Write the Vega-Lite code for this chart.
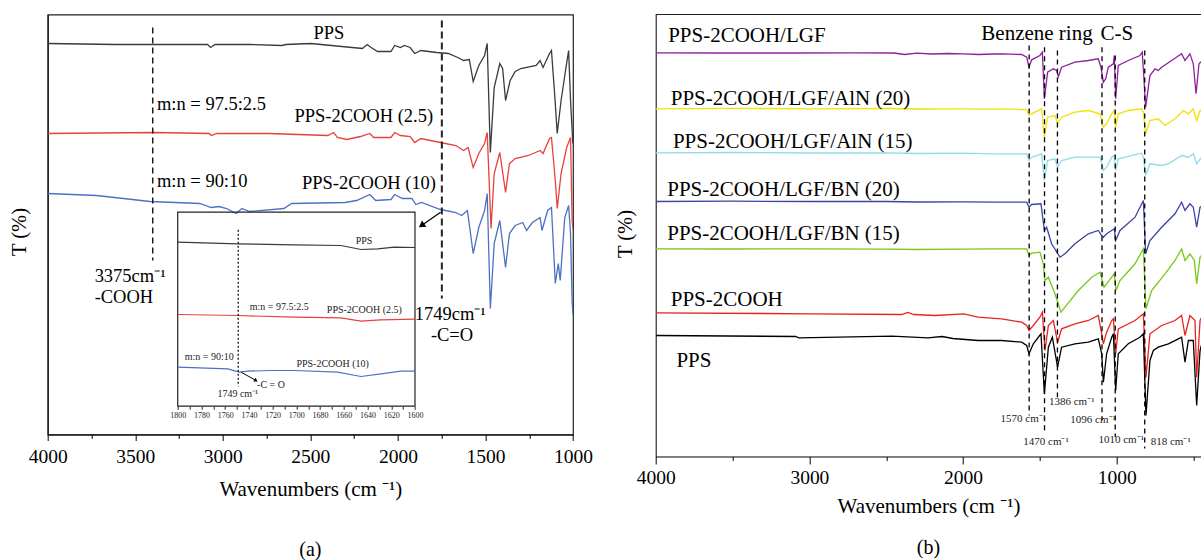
{
  "$schema": "https://vega.github.io/schema/vega-lite/v6.json",
  "padding": {"left": 8.7, "top": 13.5, "right": 0, "bottom": 0},
  "config": {
    "font": "Liberation Serif",
    "view": {"stroke": null},
    "axis": {"grid": false, "labelColor": "#000", "titleColor": "#000", "titleFontWeight": "normal", "domainColor": "#000", "tickColor": "#000", "labelFont": "Liberation Serif", "titleFont": "Liberation Serif", "labelFlush": false, "labelOverlap": false},
    "text": {"font": "Liberation Serif", "color": "#000"},
    "title": {"font": "Liberation Serif", "fontWeight": "normal", "color": "#000"}
  },
  "datasets": {
    "a_lines": [
      {"s":"PPS","wn":4000,"t":391},{"s":"PPS","wn":3611,"t":390},{"s":"PPS","wn":3087,"t":390},{"s":"PPS","wn":3070,"t":387},{"s":"PPS","wn":3044,"t":390},{"s":"PPS","wn":2847,"t":390},{"s":"PPS","wn":2662,"t":389},{"s":"PPS","wn":2640,"t":390},{"s":"PPS","wn":2498,"t":391},{"s":"PPS","wn":2203,"t":386},{"s":"PPS","wn":2175,"t":390},{"s":"PPS","wn":2153,"t":387},{"s":"PPS","wn":2116,"t":383},{"s":"PPS","wn":2040,"t":383},{"s":"PPS","wn":2018,"t":389},{"s":"PPS","wn":1985,"t":387},{"s":"PPS","wn":1963,"t":389},{"s":"PPS","wn":1930,"t":387},{"s":"PPS","wn":1904,"t":381},{"s":"PPS","wn":1869,"t":384},{"s":"PPS","wn":1778,"t":382},{"s":"PPS","wn":1712,"t":381},{"s":"PPS","wn":1658,"t":377},{"s":"PPS","wn":1625,"t":374},{"s":"PPS","wn":1592,"t":375},{"s":"PPS","wn":1570,"t":353},{"s":"PPS","wn":1538,"t":369},{"s":"PPS","wn":1505,"t":379},{"s":"PPS","wn":1490,"t":391},{"s":"PPS","wn":1472,"t":282},{"s":"PPS","wn":1450,"t":347},{"s":"PPS","wn":1418,"t":371},{"s":"PPS","wn":1402,"t":366},{"s":"PPS","wn":1385,"t":334},{"s":"PPS","wn":1359,"t":354},{"s":"PPS","wn":1330,"t":363},{"s":"PPS","wn":1298,"t":366},{"s":"PPS","wn":1210,"t":369},{"s":"PPS","wn":1188,"t":374},{"s":"PPS","wn":1171,"t":367},{"s":"PPS","wn":1134,"t":381},{"s":"PPS","wn":1123,"t":384},{"s":"PPS","wn":1105,"t":341},{"s":"PPS","wn":1090,"t":301},{"s":"PPS","wn":1068,"t":334},{"s":"PPS","wn":1040,"t":367},{"s":"PPS","wn":1025,"t":384},{"s":"PPS","wn":1014,"t":334},{"s":"PPS","wn":1001,"t":291},
      {"s":"PPS-2COOH (2.5)","wn":4000,"t":301},{"s":"PPS-2COOH (2.5)","wn":3393,"t":302},{"s":"PPS-2COOH (2.5)","wn":3077,"t":301},{"s":"PPS-2COOH (2.5)","wn":3066,"t":299},{"s":"PPS-2COOH (2.5)","wn":3033,"t":301},{"s":"PPS-2COOH (2.5)","wn":2738,"t":301},{"s":"PPS-2COOH (2.5)","wn":2400,"t":299},{"s":"PPS-2COOH (2.5)","wn":2367,"t":302},{"s":"PPS-2COOH (2.5)","wn":2345,"t":297},{"s":"PPS-2COOH (2.5)","wn":2291,"t":295},{"s":"PPS-2COOH (2.5)","wn":2214,"t":298},{"s":"PPS-2COOH (2.5)","wn":2160,"t":301},{"s":"PPS-2COOH (2.5)","wn":2138,"t":297},{"s":"PPS-2COOH (2.5)","wn":2040,"t":297},{"s":"PPS-2COOH (2.5)","wn":2018,"t":302},{"s":"PPS-2COOH (2.5)","wn":1985,"t":299},{"s":"PPS-2COOH (2.5)","wn":1930,"t":298},{"s":"PPS-2COOH (2.5)","wn":1904,"t":292},{"s":"PPS-2COOH (2.5)","wn":1869,"t":296},{"s":"PPS-2COOH (2.5)","wn":1757,"t":292},{"s":"PPS-2COOH (2.5)","wn":1669,"t":289},{"s":"PPS-2COOH (2.5)","wn":1625,"t":284},{"s":"PPS-2COOH (2.5)","wn":1599,"t":287},{"s":"PPS-2COOH (2.5)","wn":1570,"t":267},{"s":"PPS-2COOH (2.5)","wn":1538,"t":281},{"s":"PPS-2COOH (2.5)","wn":1505,"t":291},{"s":"PPS-2COOH (2.5)","wn":1490,"t":302},{"s":"PPS-2COOH (2.5)","wn":1468,"t":206},{"s":"PPS-2COOH (2.5)","wn":1450,"t":261},{"s":"PPS-2COOH (2.5)","wn":1418,"t":282},{"s":"PPS-2COOH (2.5)","wn":1385,"t":242},{"s":"PPS-2COOH (2.5)","wn":1363,"t":271},{"s":"PPS-2COOH (2.5)","wn":1330,"t":276},{"s":"PPS-2COOH (2.5)","wn":1254,"t":279},{"s":"PPS-2COOH (2.5)","wn":1188,"t":284},{"s":"PPS-2COOH (2.5)","wn":1171,"t":281},{"s":"PPS-2COOH (2.5)","wn":1134,"t":296},{"s":"PPS-2COOH (2.5)","wn":1123,"t":297},{"s":"PPS-2COOH (2.5)","wn":1101,"t":254},{"s":"PPS-2COOH (2.5)","wn":1090,"t":226},{"s":"PPS-2COOH (2.5)","wn":1068,"t":261},{"s":"PPS-2COOH (2.5)","wn":1036,"t":287},{"s":"PPS-2COOH (2.5)","wn":1014,"t":297},{"s":"PPS-2COOH (2.5)","wn":1005,"t":214},{"s":"PPS-2COOH (2.5)","wn":1000,"t":205},
      {"s":"PPS-2COOH (10)","wn":4000,"t":241},{"s":"PPS-2COOH (10)","wn":3721,"t":239},{"s":"PPS-2COOH (10)","wn":3415,"t":233},{"s":"PPS-2COOH (10)","wn":3131,"t":231},{"s":"PPS-2COOH (10)","wn":3066,"t":227},{"s":"PPS-2COOH (10)","wn":3022,"t":228},{"s":"PPS-2COOH (10)","wn":2978,"t":226},{"s":"PPS-2COOH (10)","wn":2924,"t":221},{"s":"PPS-2COOH (10)","wn":2891,"t":226},{"s":"PPS-2COOH (10)","wn":2847,"t":223},{"s":"PPS-2COOH (10)","wn":2651,"t":226},{"s":"PPS-2COOH (10)","wn":2607,"t":231},{"s":"PPS-2COOH (10)","wn":2302,"t":232},{"s":"PPS-2COOH (10)","wn":2236,"t":234},{"s":"PPS-2COOH (10)","wn":2160,"t":240},{"s":"PPS-2COOH (10)","wn":2127,"t":234},{"s":"PPS-2COOH (10)","wn":2040,"t":235},{"s":"PPS-2COOH (10)","wn":2018,"t":240},{"s":"PPS-2COOH (10)","wn":1974,"t":236},{"s":"PPS-2COOH (10)","wn":1919,"t":236},{"s":"PPS-2COOH (10)","wn":1898,"t":230},{"s":"PPS-2COOH (10)","wn":1865,"t":232},{"s":"PPS-2COOH (10)","wn":1757,"t":225},{"s":"PPS-2COOH (10)","wn":1669,"t":222},{"s":"PPS-2COOH (10)","wn":1636,"t":219},{"s":"PPS-2COOH (10)","wn":1603,"t":224},{"s":"PPS-2COOH (10)","wn":1570,"t":181},{"s":"PPS-2COOH (10)","wn":1538,"t":207},{"s":"PPS-2COOH (10)","wn":1505,"t":224},{"s":"PPS-2COOH (10)","wn":1490,"t":241},{"s":"PPS-2COOH (10)","wn":1472,"t":126},{"s":"PPS-2COOH (10)","wn":1450,"t":191},{"s":"PPS-2COOH (10)","wn":1418,"t":214},{"s":"PPS-2COOH (10)","wn":1385,"t":167},{"s":"PPS-2COOH (10)","wn":1363,"t":201},{"s":"PPS-2COOH (10)","wn":1330,"t":209},{"s":"PPS-2COOH (10)","wn":1287,"t":212},{"s":"PPS-2COOH (10)","wn":1265,"t":204},{"s":"PPS-2COOH (10)","wn":1232,"t":212},{"s":"PPS-2COOH (10)","wn":1188,"t":217},{"s":"PPS-2COOH (10)","wn":1177,"t":204},{"s":"PPS-2COOH (10)","wn":1145,"t":224},{"s":"PPS-2COOH (10)","wn":1123,"t":227},{"s":"PPS-2COOH (10)","wn":1101,"t":151},{"s":"PPS-2COOH (10)","wn":1084,"t":171},{"s":"PPS-2COOH (10)","wn":1073,"t":154},{"s":"PPS-2COOH (10)","wn":1047,"t":217},{"s":"PPS-2COOH (10)","wn":1025,"t":229},{"s":"PPS-2COOH (10)","wn":1014,"t":201},{"s":"PPS-2COOH (10)","wn":1005,"t":132},{"s":"PPS-2COOH (10)","wn":1000,"t":120}
    ],
    "a_dash": [{"wn":3400,"t":407,"t2":174},{"wn":1749,"t":414,"t2":136}],
    "a_text_c": [
      {"label":"PPS","wn":2394,"t":401.7},
      {"label":"PPS-2COOH (2.5)","wn":2195,"t":319},
      {"label":"PPS-2COOH (10)","wn":2165,"t":251.3},
      {"label":"1749cm⁻¹","wn":1701,"t":120.7},
      {"label":"-C=O","wn":1691,"t":99}
    ],
    "a_text_l": [
      {"label":"m:n = 97.5:2.5","wn":3376,"t":330.7},
      {"label":"m:n = 90:10","wn":3376,"t":254},
      {"label":"3375cm⁻¹","wn":3732,"t":159},
      {"label":"-COOH","wn":3732,"t":137.3}
    ],
    "a_arrow": [{"wn":1756,"t":222.3,"wn2":1865,"t2":209}],
    "a_head": [{"wn":1865,"t":209}],
    "a_minor": [{"wn":4000}],
    "a_inset_frame": [{"wn":1800,"wn2":1600,"t":28.3,"t2":222.3}],
    "a_inset": [
      {"s":"PPS","wn":1800,"t":192.3},{"s":"PPS","wn":1749.4,"t":190.7},{"s":"PPS","wn":1701.7,"t":189.7},{"s":"PPS","wn":1662.4,"t":189},{"s":"PPS","wn":1645.5,"t":185},{"s":"PPS","wn":1631.4,"t":185.7},{"s":"PPS","wn":1617.4,"t":187.3},{"s":"PPS","wn":1600,"t":187},
      {"s":"PPS-2COOH (2.5)","wn":1800,"t":120},{"s":"PPS-2COOH (2.5)","wn":1749.4,"t":119},{"s":"PPS-2COOH (2.5)","wn":1701.7,"t":117.3},{"s":"PPS-2COOH (2.5)","wn":1662.4,"t":116.7},{"s":"PPS-2COOH (2.5)","wn":1645.5,"t":113.3},{"s":"PPS-2COOH (2.5)","wn":1629,"t":114.7},{"s":"PPS-2COOH (2.5)","wn":1600,"t":115.3},
      {"s":"PPS-2COOH (10)","wn":1800,"t":67.3},{"s":"PPS-2COOH (10)","wn":1757.9,"t":65.7},{"s":"PPS-2COOH (10)","wn":1748,"t":62.3},{"s":"PPS-2COOH (10)","wn":1741,"t":63.3},{"s":"PPS-2COOH (10)","wn":1721.4,"t":64},{"s":"PPS-2COOH (10)","wn":1701.7,"t":64},{"s":"PPS-2COOH (10)","wn":1665.2,"t":62.3},{"s":"PPS-2COOH (10)","wn":1645.5,"t":58},{"s":"PPS-2COOH (10)","wn":1628.6,"t":60.7},{"s":"PPS-2COOH (10)","wn":1611.8,"t":63.3},{"s":"PPS-2COOH (10)","wn":1600,"t":63.3}
    ],
    "a_inset_dot": [{"wn":1749,"t":204.7,"t2":48.3}],
    "a_inset_text": [
      {"label":"PPS","wn":1643,"t":193.3},
      {"label":"m:n = 97.5:2.5","wn":1714.4,"t":127.3},
      {"label":"PPS-2COOH (2.5)","wn":1642.7,"t":124.7},
      {"label":"m:n = 90:10","wn":1773.4,"t":77.3},
      {"label":"PPS-2COOH (10)","wn":1669.4,"t":70.7},
      {"label":"-C = O","wn":1721.4,"t":49.7},
      {"label":"1749 cm⁻¹","wn":1749.4,"t":40}
    ],
    "a_inset_arrow": [{"wn":1746.5,"t":62.3,"wn2":1734,"t2":54}],
    "a_inset_head": [{"wn":1734,"t":54}],
    "b_lines": [
      {"s":"PPS-2COOH/LGF","wn":4000,"t":403.7},{"s":"PPS-2COOH/LGF","wn":3600,"t":403.5},{"s":"PPS-2COOH/LGF","wn":3100,"t":403.5},{"s":"PPS-2COOH/LGF","wn":2700,"t":403.7},{"s":"PPS-2COOH/LGF","wn":2450,"t":403.5},{"s":"PPS-2COOH/LGF","wn":2380,"t":402},{"s":"PPS-2COOH/LGF","wn":2300,"t":403.3},{"s":"PPS-2COOH/LGF","wn":2200,"t":402.5},{"s":"PPS-2COOH/LGF","wn":2100,"t":403},{"s":"PPS-2COOH/LGF","wn":2000,"t":402.7},{"s":"PPS-2COOH/LGF","wn":1900,"t":402},{"s":"PPS-2COOH/LGF","wn":1800,"t":402.5},{"s":"PPS-2COOH/LGF","wn":1749,"t":402.7},{"s":"PPS-2COOH/LGF","wn":1619,"t":402},{"s":"PPS-2COOH/LGF","wn":1586,"t":399.3},{"s":"PPS-2COOH/LGF","wn":1571,"t":389.3},{"s":"PPS-2COOH/LGF","wn":1554,"t":396.7},{"s":"PPS-2COOH/LGF","wn":1500,"t":401},{"s":"PPS-2COOH/LGF","wn":1484,"t":404.3},{"s":"PPS-2COOH/LGF","wn":1471,"t":357.7},{"s":"PPS-2COOH/LGF","wn":1450,"t":384.3},{"s":"PPS-2COOH/LGF","wn":1413,"t":387.7},{"s":"PPS-2COOH/LGF","wn":1391,"t":386},{"s":"PPS-2COOH/LGF","wn":1380,"t":380},{"s":"PPS-2COOH/LGF","wn":1359,"t":389.3},{"s":"PPS-2COOH/LGF","wn":1272,"t":394.3},{"s":"PPS-2COOH/LGF","wn":1185,"t":396},{"s":"PPS-2COOH/LGF","wn":1120,"t":397.7},{"s":"PPS-2COOH/LGF","wn":1103,"t":389.3},{"s":"PPS-2COOH/LGF","wn":1087,"t":374.3},{"s":"PPS-2COOH/LGF","wn":1072,"t":377.7},{"s":"PPS-2COOH/LGF","wn":1055,"t":389.3},{"s":"PPS-2COOH/LGF","wn":1022,"t":392.7},{"s":"PPS-2COOH/LGF","wn":1016,"t":401},{"s":"PPS-2COOH/LGF","wn":1007,"t":357.7},{"s":"PPS-2COOH/LGF","wn":990,"t":391},{"s":"PPS-2COOH/LGF","wn":925,"t":396},{"s":"PPS-2COOH/LGF","wn":849,"t":401},{"s":"PPS-2COOH/LGF","wn":834,"t":404.3},{"s":"PPS-2COOH/LGF","wn":812,"t":349.3},{"s":"PPS-2COOH/LGF","wn":784,"t":381},{"s":"PPS-2COOH/LGF","wn":751,"t":387.7},{"s":"PPS-2COOH/LGF","wn":730,"t":386},{"s":"PPS-2COOH/LGF","wn":708,"t":389.3},{"s":"PPS-2COOH/LGF","wn":643,"t":396},{"s":"PPS-2COOH/LGF","wn":578,"t":402.7},{"s":"PPS-2COOH/LGF","wn":556,"t":396},{"s":"PPS-2COOH/LGF","wn":524,"t":402.7},{"s":"PPS-2COOH/LGF","wn":502,"t":392.7},{"s":"PPS-2COOH/LGF","wn":484,"t":362.7},{"s":"PPS-2COOH/LGF","wn":465,"t":392.7},{"s":"PPS-2COOH/LGF","wn":441,"t":396},
      {"s":"PPS-2COOH/LGF/AlN (20)","wn":4000,"t":347.7},{"s":"PPS-2COOH/LGF/AlN (20)","wn":3500,"t":348.2},{"s":"PPS-2COOH/LGF/AlN (20)","wn":3000,"t":347.7},{"s":"PPS-2COOH/LGF/AlN (20)","wn":2500,"t":348},{"s":"PPS-2COOH/LGF/AlN (20)","wn":2300,"t":347.5},{"s":"PPS-2COOH/LGF/AlN (20)","wn":2000,"t":347.7},{"s":"PPS-2COOH/LGF/AlN (20)","wn":1800,"t":347.3},{"s":"PPS-2COOH/LGF/AlN (20)","wn":1749,"t":347.7},{"s":"PPS-2COOH/LGF/AlN (20)","wn":1586,"t":346.7},{"s":"PPS-2COOH/LGF/AlN (20)","wn":1571,"t":341},{"s":"PPS-2COOH/LGF/AlN (20)","wn":1554,"t":342.7},{"s":"PPS-2COOH/LGF/AlN (20)","wn":1489,"t":347.7},{"s":"PPS-2COOH/LGF/AlN (20)","wn":1471,"t":319.3},{"s":"PPS-2COOH/LGF/AlN (20)","wn":1450,"t":339.3},{"s":"PPS-2COOH/LGF/AlN (20)","wn":1402,"t":341},{"s":"PPS-2COOH/LGF/AlN (20)","wn":1385,"t":332.7},{"s":"PPS-2COOH/LGF/AlN (20)","wn":1359,"t":339.3},{"s":"PPS-2COOH/LGF/AlN (20)","wn":1272,"t":344.3},{"s":"PPS-2COOH/LGF/AlN (20)","wn":1185,"t":346},{"s":"PPS-2COOH/LGF/AlN (20)","wn":1109,"t":342.7},{"s":"PPS-2COOH/LGF/AlN (20)","wn":1087,"t":329.3},{"s":"PPS-2COOH/LGF/AlN (20)","wn":1066,"t":332.7},{"s":"PPS-2COOH/LGF/AlN (20)","wn":1033,"t":342.7},{"s":"PPS-2COOH/LGF/AlN (20)","wn":1016,"t":346},{"s":"PPS-2COOH/LGF/AlN (20)","wn":1007,"t":329.3},{"s":"PPS-2COOH/LGF/AlN (20)","wn":990,"t":342.7},{"s":"PPS-2COOH/LGF/AlN (20)","wn":925,"t":346},{"s":"PPS-2COOH/LGF/AlN (20)","wn":838,"t":347.7},{"s":"PPS-2COOH/LGF/AlN (20)","wn":827,"t":344.3},{"s":"PPS-2COOH/LGF/AlN (20)","wn":812,"t":322.7},{"s":"PPS-2COOH/LGF/AlN (20)","wn":784,"t":336},{"s":"PPS-2COOH/LGF/AlN (20)","wn":730,"t":337.7},{"s":"PPS-2COOH/LGF/AlN (20)","wn":686,"t":331},{"s":"PPS-2COOH/LGF/AlN (20)","wn":621,"t":337.7},{"s":"PPS-2COOH/LGF/AlN (20)","wn":567,"t":346},{"s":"PPS-2COOH/LGF/AlN (20)","wn":534,"t":342.7},{"s":"PPS-2COOH/LGF/AlN (20)","wn":502,"t":347.7},{"s":"PPS-2COOH/LGF/AlN (20)","wn":480,"t":336},{"s":"PPS-2COOH/LGF/AlN (20)","wn":458,"t":346},{"s":"PPS-2COOH/LGF/AlN (20)","wn":441,"t":346},
      {"s":"PPS-2COOH/LGF/AlN (15)","wn":4000,"t":303.7},{"s":"PPS-2COOH/LGF/AlN (15)","wn":3500,"t":304},{"s":"PPS-2COOH/LGF/AlN (15)","wn":3000,"t":303.5},{"s":"PPS-2COOH/LGF/AlN (15)","wn":2500,"t":303.7},{"s":"PPS-2COOH/LGF/AlN (15)","wn":2300,"t":303},{"s":"PPS-2COOH/LGF/AlN (15)","wn":2000,"t":303.3},{"s":"PPS-2COOH/LGF/AlN (15)","wn":1800,"t":302.7},{"s":"PPS-2COOH/LGF/AlN (15)","wn":1749,"t":302.7},{"s":"PPS-2COOH/LGF/AlN (15)","wn":1586,"t":302.7},{"s":"PPS-2COOH/LGF/AlN (15)","wn":1571,"t":296},{"s":"PPS-2COOH/LGF/AlN (15)","wn":1554,"t":299.3},{"s":"PPS-2COOH/LGF/AlN (15)","wn":1489,"t":302.7},{"s":"PPS-2COOH/LGF/AlN (15)","wn":1471,"t":276},{"s":"PPS-2COOH/LGF/AlN (15)","wn":1450,"t":296},{"s":"PPS-2COOH/LGF/AlN (15)","wn":1402,"t":297.7},{"s":"PPS-2COOH/LGF/AlN (15)","wn":1385,"t":289.3},{"s":"PPS-2COOH/LGF/AlN (15)","wn":1359,"t":296},{"s":"PPS-2COOH/LGF/AlN (15)","wn":1272,"t":299.3},{"s":"PPS-2COOH/LGF/AlN (15)","wn":1109,"t":299.3},{"s":"PPS-2COOH/LGF/AlN (15)","wn":1087,"t":286},{"s":"PPS-2COOH/LGF/AlN (15)","wn":1066,"t":289.3},{"s":"PPS-2COOH/LGF/AlN (15)","wn":1033,"t":299.3},{"s":"PPS-2COOH/LGF/AlN (15)","wn":1016,"t":301},{"s":"PPS-2COOH/LGF/AlN (15)","wn":1007,"t":286},{"s":"PPS-2COOH/LGF/AlN (15)","wn":990,"t":297.7},{"s":"PPS-2COOH/LGF/AlN (15)","wn":838,"t":303.3},{"s":"PPS-2COOH/LGF/AlN (15)","wn":827,"t":299.3},{"s":"PPS-2COOH/LGF/AlN (15)","wn":812,"t":281},{"s":"PPS-2COOH/LGF/AlN (15)","wn":784,"t":292.7},{"s":"PPS-2COOH/LGF/AlN (15)","wn":708,"t":291},{"s":"PPS-2COOH/LGF/AlN (15)","wn":664,"t":292.7},{"s":"PPS-2COOH/LGF/AlN (15)","wn":578,"t":301},{"s":"PPS-2COOH/LGF/AlN (15)","wn":534,"t":299.3},{"s":"PPS-2COOH/LGF/AlN (15)","wn":502,"t":302.7},{"s":"PPS-2COOH/LGF/AlN (15)","wn":480,"t":292.7},{"s":"PPS-2COOH/LGF/AlN (15)","wn":441,"t":301},
      {"s":"PPS-2COOH/LGF/BN (20)","wn":4000,"t":255},{"s":"PPS-2COOH/LGF/BN (20)","wn":3500,"t":255.3},{"s":"PPS-2COOH/LGF/BN (20)","wn":3000,"t":255},{"s":"PPS-2COOH/LGF/BN (20)","wn":2500,"t":255},{"s":"PPS-2COOH/LGF/BN (20)","wn":2300,"t":254.5},{"s":"PPS-2COOH/LGF/BN (20)","wn":2000,"t":254.7},{"s":"PPS-2COOH/LGF/BN (20)","wn":1800,"t":254.3},{"s":"PPS-2COOH/LGF/BN (20)","wn":1749,"t":254.3},{"s":"PPS-2COOH/LGF/BN (20)","wn":1586,"t":254.3},{"s":"PPS-2COOH/LGF/BN (20)","wn":1571,"t":249.3},{"s":"PPS-2COOH/LGF/BN (20)","wn":1554,"t":252},{"s":"PPS-2COOH/LGF/BN (20)","wn":1493,"t":252.7},{"s":"PPS-2COOH/LGF/BN (20)","wn":1471,"t":226},{"s":"PPS-2COOH/LGF/BN (20)","wn":1456,"t":229.3},{"s":"PPS-2COOH/LGF/BN (20)","wn":1424,"t":212.7},{"s":"PPS-2COOH/LGF/BN (20)","wn":1369,"t":199.3},{"s":"PPS-2COOH/LGF/BN (20)","wn":1337,"t":202.7},{"s":"PPS-2COOH/LGF/BN (20)","wn":1272,"t":212.7},{"s":"PPS-2COOH/LGF/BN (20)","wn":1185,"t":222.7},{"s":"PPS-2COOH/LGF/BN (20)","wn":1120,"t":226},{"s":"PPS-2COOH/LGF/BN (20)","wn":1098,"t":221},{"s":"PPS-2COOH/LGF/BN (20)","wn":1087,"t":219.3},{"s":"PPS-2COOH/LGF/BN (20)","wn":1066,"t":222.7},{"s":"PPS-2COOH/LGF/BN (20)","wn":1033,"t":226},{"s":"PPS-2COOH/LGF/BN (20)","wn":1016,"t":227.7},{"s":"PPS-2COOH/LGF/BN (20)","wn":1007,"t":216},{"s":"PPS-2COOH/LGF/BN (20)","wn":979,"t":226},{"s":"PPS-2COOH/LGF/BN (20)","wn":881,"t":239.3},{"s":"PPS-2COOH/LGF/BN (20)","wn":827,"t":256},{"s":"PPS-2COOH/LGF/BN (20)","wn":812,"t":202.7},{"s":"PPS-2COOH/LGF/BN (20)","wn":784,"t":216},{"s":"PPS-2COOH/LGF/BN (20)","wn":708,"t":229.3},{"s":"PPS-2COOH/LGF/BN (20)","wn":621,"t":242.7},{"s":"PPS-2COOH/LGF/BN (20)","wn":578,"t":254.3},{"s":"PPS-2COOH/LGF/BN (20)","wn":556,"t":246},{"s":"PPS-2COOH/LGF/BN (20)","wn":524,"t":252.7},{"s":"PPS-2COOH/LGF/BN (20)","wn":502,"t":249.3},{"s":"PPS-2COOH/LGF/BN (20)","wn":480,"t":229.3},{"s":"PPS-2COOH/LGF/BN (20)","wn":458,"t":249.3},{"s":"PPS-2COOH/LGF/BN (20)","wn":441,"t":251},
      {"s":"PPS-2COOH/LGF/BN (15)","wn":4000,"t":207.7},{"s":"PPS-2COOH/LGF/BN (15)","wn":3500,"t":207.5},{"s":"PPS-2COOH/LGF/BN (15)","wn":3000,"t":207.7},{"s":"PPS-2COOH/LGF/BN (15)","wn":2500,"t":207.3},{"s":"PPS-2COOH/LGF/BN (15)","wn":2300,"t":207},{"s":"PPS-2COOH/LGF/BN (15)","wn":2000,"t":207.3},{"s":"PPS-2COOH/LGF/BN (15)","wn":1800,"t":207.7},{"s":"PPS-2COOH/LGF/BN (15)","wn":1749,"t":207.7},{"s":"PPS-2COOH/LGF/BN (15)","wn":1586,"t":207.7},{"s":"PPS-2COOH/LGF/BN (15)","wn":1571,"t":201},{"s":"PPS-2COOH/LGF/BN (15)","wn":1554,"t":203.3},{"s":"PPS-2COOH/LGF/BN (15)","wn":1500,"t":204.3},{"s":"PPS-2COOH/LGF/BN (15)","wn":1478,"t":192.7},{"s":"PPS-2COOH/LGF/BN (15)","wn":1467,"t":176},{"s":"PPS-2COOH/LGF/BN (15)","wn":1445,"t":179.3},{"s":"PPS-2COOH/LGF/BN (15)","wn":1402,"t":162.7},{"s":"PPS-2COOH/LGF/BN (15)","wn":1363,"t":144.3},{"s":"PPS-2COOH/LGF/BN (15)","wn":1337,"t":149.3},{"s":"PPS-2COOH/LGF/BN (15)","wn":1250,"t":166},{"s":"PPS-2COOH/LGF/BN (15)","wn":1163,"t":179.3},{"s":"PPS-2COOH/LGF/BN (15)","wn":1109,"t":184.3},{"s":"PPS-2COOH/LGF/BN (15)","wn":1094,"t":176},{"s":"PPS-2COOH/LGF/BN (15)","wn":1083,"t":169.3},{"s":"PPS-2COOH/LGF/BN (15)","wn":1066,"t":172.7},{"s":"PPS-2COOH/LGF/BN (15)","wn":1033,"t":179.3},{"s":"PPS-2COOH/LGF/BN (15)","wn":1016,"t":182.7},{"s":"PPS-2COOH/LGF/BN (15)","wn":1005,"t":166},{"s":"PPS-2COOH/LGF/BN (15)","wn":979,"t":176},{"s":"PPS-2COOH/LGF/BN (15)","wn":881,"t":192.7},{"s":"PPS-2COOH/LGF/BN (15)","wn":827,"t":207.7},{"s":"PPS-2COOH/LGF/BN (15)","wn":810,"t":147.7},{"s":"PPS-2COOH/LGF/BN (15)","wn":773,"t":166},{"s":"PPS-2COOH/LGF/BN (15)","wn":686,"t":182.7},{"s":"PPS-2COOH/LGF/BN (15)","wn":621,"t":196},{"s":"PPS-2COOH/LGF/BN (15)","wn":578,"t":207.7},{"s":"PPS-2COOH/LGF/BN (15)","wn":556,"t":196},{"s":"PPS-2COOH/LGF/BN (15)","wn":524,"t":202.7},{"s":"PPS-2COOH/LGF/BN (15)","wn":495,"t":196},{"s":"PPS-2COOH/LGF/BN (15)","wn":480,"t":172.7},{"s":"PPS-2COOH/LGF/BN (15)","wn":458,"t":199.3},{"s":"PPS-2COOH/LGF/BN (15)","wn":441,"t":202.7},
      {"s":"PPS-2COOH","wn":4000,"t":143.7},{"s":"PPS-2COOH","wn":3000,"t":142.7},{"s":"PPS-2COOH","wn":2400,"t":142},{"s":"PPS-2COOH","wn":2360,"t":144},{"s":"PPS-2COOH","wn":2320,"t":142},{"s":"PPS-2COOH","wn":2183,"t":141},{"s":"PPS-2COOH","wn":1996,"t":142.7},{"s":"PPS-2COOH","wn":1903,"t":139.3},{"s":"PPS-2COOH","wn":1749,"t":137.7},{"s":"PPS-2COOH","wn":1619,"t":134.3},{"s":"PPS-2COOH","wn":1586,"t":131},{"s":"PPS-2COOH","wn":1571,"t":126},{"s":"PPS-2COOH","wn":1543,"t":131},{"s":"PPS-2COOH","wn":1500,"t":139.3},{"s":"PPS-2COOH","wn":1484,"t":144.3},{"s":"PPS-2COOH","wn":1467,"t":106},{"s":"PPS-2COOH","wn":1445,"t":131},{"s":"PPS-2COOH","wn":1413,"t":136},{"s":"PPS-2COOH","wn":1385,"t":114.3},{"s":"PPS-2COOH","wn":1359,"t":127.7},{"s":"PPS-2COOH","wn":1272,"t":132.7},{"s":"PPS-2COOH","wn":1185,"t":136},{"s":"PPS-2COOH","wn":1120,"t":141},{"s":"PPS-2COOH","wn":1098,"t":122.7},{"s":"PPS-2COOH","wn":1087,"t":112.7},{"s":"PPS-2COOH","wn":1066,"t":124.3},{"s":"PPS-2COOH","wn":1033,"t":136},{"s":"PPS-2COOH","wn":1022,"t":137.7},{"s":"PPS-2COOH","wn":1007,"t":102.7},{"s":"PPS-2COOH","wn":990,"t":127.7},{"s":"PPS-2COOH","wn":881,"t":136},{"s":"PPS-2COOH","wn":827,"t":142.7},{"s":"PPS-2COOH","wn":810,"t":79.3},{"s":"PPS-2COOH","wn":784,"t":122.7},{"s":"PPS-2COOH","wn":708,"t":131},{"s":"PPS-2COOH","wn":621,"t":136},{"s":"PPS-2COOH","wn":578,"t":141},{"s":"PPS-2COOH","wn":556,"t":121},{"s":"PPS-2COOH","wn":524,"t":141},{"s":"PPS-2COOH","wn":491,"t":136},{"s":"PPS-2COOH","wn":480,"t":79.3},{"s":"PPS-2COOH","wn":458,"t":136},{"s":"PPS-2COOH","wn":441,"t":141},
      {"s":"PPS","wn":4000,"t":121},{"s":"PPS","wn":3091,"t":120},{"s":"PPS","wn":3068,"t":118.7},{"s":"PPS","wn":2462,"t":120.3},{"s":"PPS","wn":2229,"t":118.7},{"s":"PPS","wn":2136,"t":120},{"s":"PPS","wn":2066,"t":118},{"s":"PPS","wn":1903,"t":116},{"s":"PPS","wn":1749,"t":116},{"s":"PPS","wn":1619,"t":114.3},{"s":"PPS","wn":1586,"t":111},{"s":"PPS","wn":1571,"t":102.7},{"s":"PPS","wn":1543,"t":112.7},{"s":"PPS","wn":1493,"t":122.7},{"s":"PPS","wn":1471,"t":62.7},{"s":"PPS","wn":1445,"t":109.3},{"s":"PPS","wn":1419,"t":119.3},{"s":"PPS","wn":1385,"t":89.3},{"s":"PPS","wn":1359,"t":109.3},{"s":"PPS","wn":1272,"t":112.7},{"s":"PPS","wn":1185,"t":114.3},{"s":"PPS","wn":1120,"t":117.7},{"s":"PPS","wn":1098,"t":102.7},{"s":"PPS","wn":1087,"t":74.3},{"s":"PPS","wn":1066,"t":102.7},{"s":"PPS","wn":1033,"t":119.3},{"s":"PPS","wn":1022,"t":122.7},{"s":"PPS","wn":1007,"t":66},{"s":"PPS","wn":990,"t":102.7},{"s":"PPS","wn":925,"t":112.7},{"s":"PPS","wn":849,"t":119.3},{"s":"PPS","wn":827,"t":122.7},{"s":"PPS","wn":810,"t":41},{"s":"PPS","wn":784,"t":96},{"s":"PPS","wn":762,"t":106},{"s":"PPS","wn":730,"t":109.3},{"s":"PPS","wn":664,"t":112.7},{"s":"PPS","wn":599,"t":117.7},{"s":"PPS","wn":578,"t":119.3},{"s":"PPS","wn":556,"t":94.3},{"s":"PPS","wn":534,"t":116},{"s":"PPS","wn":502,"t":116},{"s":"PPS","wn":480,"t":51},{"s":"PPS","wn":458,"t":106},{"s":"PPS","wn":441,"t":116}
    ],
    "b_dash": [{"wn":1570,"t":411,"t2":41},{"wn":1470,"t":409.3,"t2":26},{"wn":1386,"t":406,"t2":59.3},{"wn":1096,"t":409.3,"t2":36},{"wn":1010,"t":401,"t2":19.3},{"wn":818,"t":406,"t2":8}],
    "b_text_l": [
      {"label":"PPS-2COOH/LGF","wn":3919,"t":421},
      {"label":"PPS-2COOH/LGF/AlN (20)","wn":3902,"t":357.7},
      {"label":"PPS-2COOH/LGF/AlN (15)","wn":3888,"t":314.3},
      {"label":"PPS-2COOH/LGF/BN (20)","wn":3925,"t":266.7},
      {"label":"PPS-2COOH/LGF/BN (15)","wn":3925,"t":222.7},
      {"label":"PPS-2COOH","wn":3902,"t":156},
      {"label":"PPS","wn":3865,"t":95}
    ],
    "b_text_c": [{"label":"Benzene ring","wn":1519,"t":422.7},{"label":"C-S","wn":1000,"t":422.7}],
    "b_wn_text": [
      {"label":"1570 cm⁻¹","wn":1608,"t":37.7},
      {"label":"1470 cm⁻¹","wn":1460,"t":14.3},
      {"label":"1386 cm⁻¹","wn":1293,"t":54.3},
      {"label":"1096 cm⁻¹","wn":1154,"t":36},
      {"label":"1010 cm⁻¹","wn":971,"t":16.7},
      {"label":"818 cm⁻¹","wn":649,"t":14.3}
    ],
    "b_frame": [{"wn":4000,"wn2":450,"t":442}]
  },
  "bounds": "flush",
  "spacing": 82,
  "hconcat": [
    {
      "width": 525.3,
      "height": 420,
      "view": {"stroke": "#222", "strokeWidth": 1.2},
      "title": {"text": "(a)", "orient": "bottom", "fontSize": 20, "offset": 40},
      "layer": [
        {
          "encoding": {
            "x": {"field": "wn", "type": "quantitative", "scale": {"domain": [4000, 1000], "nice": false, "zero": false},
              "axis": {"orient": "bottom", "values": [4000, 3500, 3000, 2500, 2000, 1500, 1000], "format": "d", "tickSize": 6, "labelPadding": 7, "labelFontSize": 19.5, "title": "Wavenumbers (cm ⁻¹)", "titleFontSize": 21, "titlePadding": 13}},
            "y": {"field": "t", "type": "quantitative", "scale": {"domain": [0, 420], "nice": false, "zero": false},
              "axis": {"orient": "left", "labels": false, "ticks": false, "domain": true, "title": "T (%)", "titleFontSize": 20.5, "titleX": -18, "titleY": 217}}
          },
          "layer": [
            {"data": {"name": "a_lines"}, "mark": {"type": "line", "strokeWidth": 1.3, "clip": true},
              "encoding": {"color": {"field": "s", "type": "nominal", "legend": null,
                "scale": {"domain": ["PPS", "PPS-2COOH (2.5)", "PPS-2COOH (10)"], "range": ["#3a3a3a", "#e8403c", "#4a72c2"]}}}},
            {"data": {"name": "a_dash"}, "transform": [{"filter": "datum.wn > 3000"}], "mark": {"type": "rule", "color": "#000", "strokeDash": [6, 4], "strokeWidth": 1.3},
              "encoding": {"y2": {"field": "t2"}}},
            {"data": {"name": "a_dash"}, "transform": [{"filter": "datum.wn < 3000"}], "mark": {"type": "rule", "color": "#222", "strokeDash": [7, 4], "strokeWidth": 2},
              "encoding": {"y2": {"field": "t2"}}},
            {"data": {"name": "a_text_c"}, "mark": {"type": "text", "fontSize": 18.5, "align": "center", "baseline": "middle"},
              "encoding": {"text": {"field": "label"}}},
            {"data": {"name": "a_text_l"}, "mark": {"type": "text", "fontSize": 18.5, "align": "left", "baseline": "middle"},
              "encoding": {"text": {"field": "label"}}},
            {"data": {"name": "a_arrow"}, "mark": {"type": "rule", "color": "#000", "strokeWidth": 1.2},
              "encoding": {"x2": {"field": "wn2"}, "y2": {"field": "t2"}}},
            {"data": {"name": "a_head"}, "mark": {"type": "point", "shape": "triangle-up", "filled": true, "color": "#000", "size": 55, "angle": 235, "opacity": 1}}
          ]
        },
        {
          "data": {"name": "a_minor"},
          "mark": {"type": "rule", "opacity": 0},
          "encoding": {
            "x": {"field": "wn", "type": "quantitative", "scale": {"domain": [4000, 1000], "nice": false, "zero": false},
              "axis": {"orient": "bottom", "values": [3750, 3250, 2750, 2250, 1750, 1250], "tickSize": 4, "labels": false, "domain": false, "title": null}}
          }
        },
        {
          "encoding": {
            "x": {"field": "wn", "type": "quantitative", "scale": {"domain": [1909.6, 1466.8], "nice": false, "zero": false},
              "axis": {"orient": "bottom", "offset": -28.3, "values": [1800, 1790, 1780, 1770, 1760, 1750, 1740, 1730, 1720, 1710, 1700, 1690, 1680, 1670, 1660, 1650, 1640, 1630, 1620, 1610, 1600],
                "labelExpr": "datum.value % 20 === 0 ? datum.label : ''", "format": "d", "tickSize": 3, "tickColor": "#222", "labelFontSize": 8, "labelPadding": 2, "labelColor": "#222", "domain": false, "title": null}},
            "y": {"field": "t", "type": "quantitative", "scale": {"domain": [0, 420], "nice": false, "zero": false}, "axis": null}
          },
          "layer": [
            {"data": {"name": "a_inset_frame"}, "mark": {"type": "rect", "filled": false, "stroke": "#222", "strokeWidth": 1.2},
              "encoding": {"x2": {"field": "wn2"}, "y2": {"field": "t2"}}},
            {"data": {"name": "a_inset"}, "mark": {"type": "line", "strokeWidth": 1.2},
              "encoding": {"color": {"field": "s", "type": "nominal", "legend": null,
                "scale": {"domain": ["PPS", "PPS-2COOH (2.5)", "PPS-2COOH (10)"], "range": ["#3a3a3a", "#e8403c", "#4a72c2"]}}}},
            {"data": {"name": "a_inset_dot"}, "mark": {"type": "rule", "color": "#000", "strokeDash": [2, 2], "strokeWidth": 1.2},
              "encoding": {"y2": {"field": "t2"}}},
            {"data": {"name": "a_inset_text"}, "mark": {"type": "text", "fontSize": 10, "align": "center", "baseline": "middle", "color": "#222"},
              "encoding": {"text": {"field": "label"}}},
            {"data": {"name": "a_inset_arrow"}, "mark": {"type": "rule", "color": "#000", "strokeWidth": 1},
              "encoding": {"x2": {"field": "wn2"}, "y2": {"field": "t2"}}},
            {"data": {"name": "a_inset_head"}, "mark": {"type": "point", "shape": "triangle-up", "filled": true, "color": "#000", "size": 18, "angle": 119, "opacity": 1}}
          ]
        }
      ],
      "resolve": {"scale": {"x": "independent", "y": "independent", "color": "independent"}, "axis": {"x": "independent", "y": "independent"}}
    },
    {
      "width": 545.6,
      "height": 442,
      "title": {"text": "(b)", "orient": "bottom", "fontSize": 20, "offset": 22},
      "layer": [
        {
          "encoding": {
            "x": {"field": "wn", "type": "quantitative", "scale": {"domain": [4000, 450], "nice": false, "zero": false},
              "axis": {"orient": "bottom", "values": [4000, 3000, 2000, 1000], "format": "d", "tickSize": 7.5, "labelPadding": 5, "labelFontSize": 19.5, "title": "Wavenumbers (cm ⁻¹)", "titleFontSize": 21, "titlePadding": 8}},
            "y": {"field": "t", "type": "quantitative", "scale": {"domain": [0, 442], "nice": false, "zero": false},
              "axis": {"orient": "left", "labels": false, "ticks": false, "domain": true, "title": "T (%)", "titleFontSize": 20.5, "titleX": -20, "titleY": 219}}
          },
          "layer": [
            {"data": {"name": "b_lines"}, "mark": {"type": "line", "strokeWidth": 1.3, "clip": true},
              "encoding": {"color": {"field": "s", "type": "nominal", "legend": null,
                "scale": {"domain": ["PPS-2COOH/LGF", "PPS-2COOH/LGF/AlN (20)", "PPS-2COOH/LGF/AlN (15)", "PPS-2COOH/LGF/BN (20)", "PPS-2COOH/LGF/BN (15)", "PPS-2COOH", "PPS"],
                  "range": ["#8e1f9e", "#f2e205", "#8fdce8", "#3b44a0", "#78c81a", "#e8231f", "#000000"]}}}},
            {"data": {"name": "b_dash"}, "mark": {"type": "rule", "color": "#000", "strokeDash": [5, 4], "strokeWidth": 1.3},
              "encoding": {"y2": {"field": "t2"}}},
            {"data": {"name": "b_text_l"}, "mark": {"type": "text", "fontSize": 21, "align": "left", "baseline": "middle"},
              "encoding": {"text": {"field": "label"}}},
            {"data": {"name": "b_text_c"}, "mark": {"type": "text", "fontSize": 21, "align": "center", "baseline": "middle"},
              "encoding": {"text": {"field": "label"}}},
            {"data": {"name": "b_wn_text"}, "mark": {"type": "text", "fontSize": 11, "align": "center", "baseline": "middle", "color": "#222"},
              "encoding": {"text": {"field": "label"}}}
          ]
        },
        {
          "data": {"name": "b_frame"},
          "mark": {"type": "rule", "color": "#222", "strokeWidth": 1.2},
          "encoding": {
            "x": {"field": "wn", "type": "quantitative", "scale": {"domain": [4000, 450], "nice": false, "zero": false},
              "axis": {"orient": "bottom", "values": [3500, 2500, 1500, 500], "tickSize": 4, "labels": false, "domain": false, "title": null}},
            "x2": {"field": "wn2"},
            "y": {"field": "t", "type": "quantitative", "scale": {"domain": [0, 442], "nice": false, "zero": false}, "axis": null}
          }
        }
      ],
      "resolve": {"scale": {"x": "independent", "y": "independent"}, "axis": {"x": "independent", "y": "independent"}}
    }
  ]
}
